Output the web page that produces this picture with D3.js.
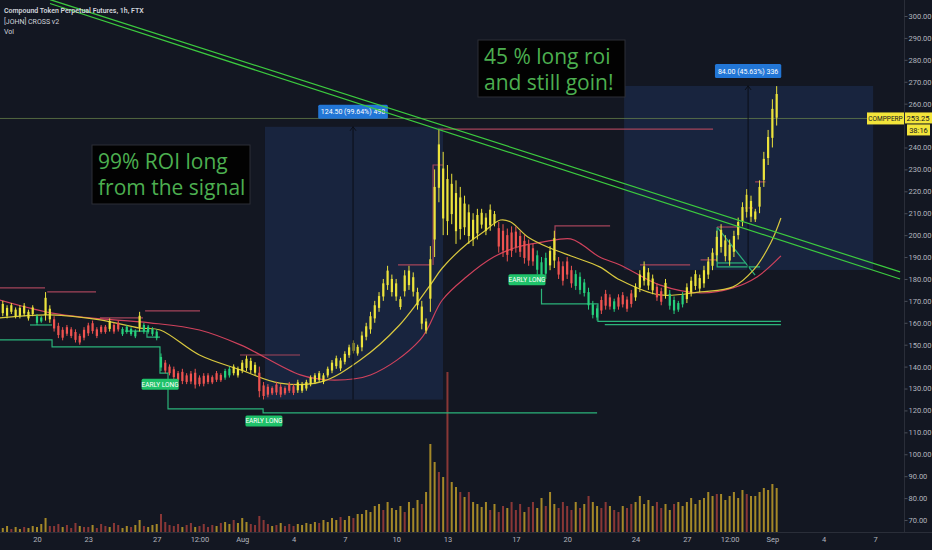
<!DOCTYPE html>
<html><head><meta charset="utf-8">
<script src="https://cdn.jsdelivr.net/npm/d3@7"></script>
<style>html,body{margin:0;padding:0;background:#131722;}svg{display:block}</style>
</head><body>
<svg id="c" width="932" height="550"></svg>
<script>
// ---------------- DATA ----------------
// 6-hourly candles (low/high) starting 2020-07-18 00:00
const candleStart = new Date(2020, 6, 18);
const candleStepHours = 6;
const highs = [
170,168,169,167, 168,169,166,168, 164,163,174,168, 163,160,158,159, 158,157,155,158,
160,161,158,159, 159,162,160,161, 158,159,158,157, 165,160,159,158, 157,146,143,141,
140,138,139,137, 138,139,136,137, 137,136,138,137, 139,140,141,140, 143,145,144,142,
140,133,132,131, 133,132,131,133, 132,134,133,134, 136,137,138,137, 140,143,145,144,
147,150,152,150, 156,160,165,170, 174,180,186,182, 180,172,184,186, 183,176,170,162,
195,230,248,238, 232,228,225,222, 218,214,210,212, 212,210,214,211, 206,205,203,204,
204,202,200,198, 196,193,190,192, 195,202,190,188, 190,186,184,183, 180,176,170,168,
172,175,173,171, 173,174,172,175, 178,184,188,185, 182,178,176,180, 175,172,170,174,
178,181,184,182, 186,190,194,202, 205,200,198,202, 208,215,221,218, 212,225,238,248,
262,268];
const lows = [
163,162,164,162, 162,163,161,163, 159,160,161,160, 156,153,152,154, 153,151,150,152,
154,155,153,155, 155,156,155,156, 154,155,154,153, 156,155,155,154, 152,138,137,136,
134,133,132,132, 132,130,131,131, 132,132,133,133, 134,135,136,135, 137,138,137,136,
126,125,126,127, 127,126,127,128, 127,128,128,129, 131,132,133,132, 135,137,139,138,
141,144,146,145, 147,152,155,160, 165,170,175,172, 170,166,172,175, 172,166,157,155,
165,190,215,200, 200,205,196,198, 200,196,195,198, 203,200,202,204, 192,190,188,190,
192,190,187,186, 186,182,178,180, 184,185,180,177, 180,176,175,173, 172,166,162,161,
164,166,166,165, 166,167,165,167, 170,174,177,175, 173,170,168,171, 166,164,165,167,
169,172,175,174, 176,180,184,188, 192,188,186,190, 198,204,208,206, 206,210,222,232,
240,250];
const stateCodes = ["YYYY","YYYY","GGYY","RRRR","RRRR","RRRR","RYRR","GGGG","YGGG","GGRR",
"RRRR","RRRR","RRRR","GGYY","YYYY","RRRR","RRRR","RYYY","YYYY","YYYY",
"YYYY","YYYY","YYYY","YYYY","YYYY","YYYY","YYYY","YYYY","YYYY","RRRR",
"RRRR","RGGG","YYRR","RRGG","GGGG","RRRG","RRRR","YYYY","YRRY","GGGG",
"YYYY","YYYY","YYYY","YYYY","YYYY","YY"];
const volumes = [
4,6,3,5, 3,5,4,6, 5,8,14,6, 6,8,5,7, 4,9,6,5, 5,7,4,8, 6,5,9,7, 4,6,5,7, 12,6,5,7, 8,18,10,7,
6,8,5,7, 9,5,6,8, 5,7,6,9, 10,8,12,9, 14,10,8,7, 16,12,8,6, 7,9,6,8, 6,8,7,9, 8,10,9,12, 10,14,12,15,
12,16,14,18, 18,22,20,26, 28,22,30,24, 22,26,20,30, 24,32,28,40, 88,70,60,55, 160,50,45,40, 35,40,30,28, 25,30,22,28, 20,26,24,30,
22,28,20,25, 30,24,34,26, 40,28,24,30, 26,22,30,24, 28,36,30,26, 24,30,26,22, 20,26,24,28, 30,36,28,32, 26,30,24,28, 22,28,30,26,
30,34,28,32, 34,40,36,38, 38,32,36,40, 34,42,38,36, 36,40,44,42, 48,44];
// volume bar direction (U = up/yellow, D = down/red) per day
const volDirCodes = ["UUDU","UDUU","UUUD","DDUD","DDUD","DUDD","DUDD","UUDU","UDUU","UDDD",
"DDUD","DUDD","DDUD","UUDU","UUDD","DDDU","DUDD","DUUU","UUDU","UUUD",
"UUDU","UUUU","UDUU","UUDU","UUDU","UUDU","DUUD","UDUU","UUDU","DDUD",
"DDUD","DUUD","UUDD","DDUD","UDUU","DDUD","DUDD","UUUU","UDDU","UDUU",
"UUUU","UUUD","UUUU","UUDU","UUUU","UU"];

// moving averages: [day offset from 2020-07-20, price]
const dayBase = new Date(2020, 6, 20);
const maFast = [[-2.2,162.2],[0.8,163.6],[3.7,161.3],[6.0,157.6],[7.2,156.7],[9.5,145.3],[11.9,138.5],[14.2,132.5],
[16.6,133.0],[18.9,143.0],[21.2,159.0],[23.0,177.3],[23.7,185.0],[25.2,196.4],[26.1,201.4],[27.1,206.9],[27.7,206.0],
[28.7,199.2],[30.0,194.1],[31.4,190.0],[32.9,185.5],[34.1,179.5],[36.4,172.7],[38.8,174.1],[40.7,176.4],[41.9,184.1],
[42.9,196.4],[43.5,207.8]];
const maSlow = [[-2.2,170.4],[0.8,164.5],[3.1,162.2],[6.6,160.0],[9.5,156.7],[11.9,149.9],[15.4,136.2],[17.1,133.9],
[19.5,136.2],[22.4,152.2],[23.7,170.4],[25.1,180.9],[26.7,190.0],[28.1,194.6],[29.6,196.9],[31.2,198.3],[31.9,195.5],
[32.9,190.0],[34.1,186.4],[36.4,177.3],[38.8,173.6],[40.7,175.9],[42.1,180.9],[43.5,190.5]];

// trend lines [day, price]
const trendLines = [
  [[0.76,307.5],[50.47,183.2]],
  [[0.76,305.7],[50.47,180.0]]
];
// support (teal) step lines
const supportLines = [
  [[-2.3,152.2],[0.88,152.2],[0.88,149.0],[7.19,149.0],[7.19,137.0],[7.66,137.0],[7.66,120.7],[13.22,120.7],[13.22,118.9],[32.75,118.9]],
  [[-0.41,159.0],[0.88,159.0]],
  [[5.15,156.2],[6.43,156.2],[6.43,153.5],[7.19,153.5]],
  [[29.5,175.5],[29.5,168.6],[32.8,168.6],[32.8,160.6],[43.5,160.6]],
  [[33.2,159.2],[43.5,159.2]],
  [[39.77,203.7],[39.77,185.5],[42.28,185.5]],
  [[39.77,187.3],[41.40,187.3]],
  [[39.77,203.7],[41.99,181.8]]
];
// resistance (red) step lines
const resistLines = [
  [[-2.3,175.9],[0.47,175.9]],
  [[0.6,174.1],[3.45,174.1]],
  [[3.68,162.2],[6.2,162.2]],
  [[6.32,165.4],[9.53,165.4]],
  [[11.87,145.3],[15.38,145.3]],
  [[21.11,186.4],[22.98,186.4]],
  [[23.16,186.4],[23.16,232.0],[23.74,232.0]],
  [[23.45,248.4],[39.53,248.4]],
  [[30.29,190.9],[30.29,204.2],[33.51,204.2]],
  [[35.26,186.4],[38.19,186.4]],
  [[38.8,188.7],[39.77,188.7]],
  [[39.77,203.7],[41.11,203.7]],
  [[41.4,212.4],[41.87,212.4]],
  [[41.99,224.3],[42.6,224.3]]
];
// long position tools
const positions = [
  {from:13.33, to:23.74, arrow:18.48, entry:124.95, target:249.45, label:"124.50 (99.64%) 498"},
  {from:34.33, to:48.89, arrow:41.58, entry:184.09, target:268.09, label:"84.00 (45.63%) 336"}
];
// signal labels [day, price]
const signals = [
  {day:7.2, price:131.9, text:"EARLY LONG"},
  {day:13.27, price:115.2, text:"EARLY LONG"},
  {day:28.65, price:179.6, text:"EARLY LONG"}
];
const lastPrice = 253.25;
const countdown = "38:16";
const symbol = "COMPPERP";
const legendLines = ["Compound Token Perpetual Futures, 1h, FTX","[JOHN] CROSS v2","Vol"];
const noteA = ["99% ROI long","from the signal"];
const noteB = ["45 % long roi","and still goin!"];
const yTickValues = d3.range(70, 301, 10);
const xTickDates = [new Date(2020,6,20),new Date(2020,6,23),new Date(2020,6,27),new Date(2020,6,29,12),
  new Date(2020,7,1),new Date(2020,7,4),new Date(2020,7,7),new Date(2020,7,10),new Date(2020,7,13),
  new Date(2020,7,17),new Date(2020,7,20),new Date(2020,7,24),new Date(2020,7,27),new Date(2020,7,29,12),
  new Date(2020,8,1),new Date(2020,8,4),new Date(2020,8,7)];
const xTickLabels = ["20","23","27","12:00","Aug","4","7","10","13","17","20","24","27","12:00","Sep","4","7"];

// ---------------- CHART ----------------
const W = 932, H = 550, plotR = 904, plotB = 532;
const BG = "#131722", TXT = "#b2b5be";
const colors = {Y:"#ece33c", R:"#ef5350", G:"#26d07c"};
const volColors = {U:"#c9a52a", D:"#a8403c"};
const fontAxis = "Roboto, 'Liberation Sans', sans-serif";

const svg = d3.select("#c");
svg.append("rect").attr("width", W).attr("height", H).attr("fill", BG);
svg.append("defs").append("clipPath").attr("id", "clip")
  .append("rect").attr("width", plotR).attr("height", plotB);

const x = d3.scaleTime().domain([new Date(2020,6,20), new Date(2020,8,7)]).range([37, 875]);
const y = d3.scaleLinear().domain([70, 300]).range([520, 16]);
const yv = d3.scaleLinear().domain([0, 200]).range([plotB, plotB - 200]);
const dayToDate = d => new Date(dayBase.getTime() + d * 864e5);
const px = d => x(dayToDate(d));
const line = d3.line().x(d => px(d[0])).y(d => y(d[1]));

const g = svg.append("g").attr("clip-path", "url(#clip)");
const states = stateCodes.join("");
const vdirs = volDirCodes.join("");
const candles = highs.map((h, i) => ({
  t: new Date(candleStart.getTime() + i * candleStepHours * 3600e3),
  h, l: lows[i], s: states[i], v: volumes[i], vd: vdirs[i]
}));

// position boxes
positions.forEach(p => {
  const x0 = px(p.from), x1 = px(p.to);
  g.append("rect").attr("x", x0).attr("y", y(p.target)).attr("width", x1 - x0)
    .attr("height", y(p.entry) - y(p.target)).attr("fill", "rgba(52,100,200,0.17)");
});

// volume
g.append("g").selectAll("rect").data(candles).join("rect")
  .attr("x", d => x(d.t) - 1).attr("width", 2)
  .attr("y", d => yv(d.v)).attr("height", d => yv(0) - yv(d.v))
  .attr("fill", d => volColors[d.vd]).attr("opacity", 0.8);

// last price line
g.append("line").attr("x1", 0).attr("x2", plotR).attr("y1", y(lastPrice)).attr("y2", y(lastPrice))
  .attr("stroke", "#6f8a4e").attr("stroke-width", 1).attr("opacity", 0.7);

// step lines
g.append("g").selectAll("path").data(supportLines).join("path")
  .attr("d", line).attr("fill", "none").attr("stroke", "#2bb37a").attr("stroke-width", 1.2);
g.append("g").selectAll("path").data(resistLines).join("path")
  .attr("d", line).attr("fill", "none").attr("stroke", "#a4445a").attr("stroke-width", 1.2);

// moving averages
const maLine = d3.line().curve(d3.curveCatmullRom).x(d => px(d[0])).y(d => y(d[1]));
g.append("path").attr("d", maLine(maSlow)).attr("fill", "none").attr("stroke", "#d0425c").attr("stroke-width", 1.2);
g.append("path").attr("d", maLine(maFast)).attr("fill", "none").attr("stroke", "#d9c83f").attr("stroke-width", 1.2);

// candles: wick + narrow body
const cg = g.append("g");
cg.selectAll("line").data(candles).join("line")
  .attr("x1", d => x(d.t)).attr("x2", d => x(d.t))
  .attr("y1", d => y(d.h)).attr("y2", d => y(d.l))
  .attr("stroke", d => colors[d.s]).attr("stroke-width", 1);
cg.selectAll("rect").data(candles).join("rect")
  .attr("x", d => x(d.t) - 1.1).attr("width", 2.2)
  .attr("y", d => y(d.h) + (y(d.l) - y(d.h)) * 0.2)
  .attr("height", d => Math.max(1, (y(d.l) - y(d.h)) * 0.6))
  .attr("fill", d => colors[d.s]);

// position arrows + labels
positions.forEach(p => {
  const ax = px(p.arrow);
  g.append("line").attr("x1", ax).attr("x2", ax).attr("y1", y(p.target)).attr("y2", y(p.entry))
    .attr("stroke", "#0b0e16").attr("stroke-width", 1);
  g.append("path").attr("d", `M${ax-3},${y(p.target)+4}L${ax},${y(p.target)}L${ax+3},${y(p.target)+4}`)
    .attr("fill", "none").attr("stroke", "#0b0e16");
  const tw = p.label.length * 3.35 + 6;
  g.append("rect").attr("x", ax - tw/2).attr("y", y(p.target) - 22).attr("width", tw).attr("height", 14)
    .attr("rx", 1.5).attr("fill", "#2276d6");
  g.append("text").attr("x", ax).attr("y", y(p.target) - 12.3).attr("text-anchor", "middle")
    .attr("fill", "#fff").attr("font-size", 7).attr("font-family", fontAxis).text(p.label);
});

// trend lines
g.append("g").selectAll("path").data(trendLines).join("path")
  .attr("d", line).attr("fill", "none").attr("stroke", "#3ccb3f").attr("stroke-width", 1.2);

// signal labels
signals.forEach(s => {
  const cx = px(s.day), cy = y(s.price);
  const tw = 37;
  g.append("rect").attr("x", cx - tw/2).attr("y", cy - 5.5).attr("width", tw).attr("height", 11)
    .attr("rx", 1.5).attr("fill", "#1fc26a");
  g.append("text").attr("x", cx).attr("y", cy + 2.5).attr("text-anchor", "middle")
    .attr("fill", "#fff").attr("font-size", 6.5).attr("font-family", fontAxis).text(s.text);
});

// note boxes
function note(x0, y0, w, h, lines) {
  svg.append("rect").attr("x", x0).attr("y", y0).attr("width", w).attr("height", h)
    .attr("fill", "#020202").attr("stroke", "#2d2f36").attr("stroke-width", 1);
  lines.forEach((t, i) => svg.append("text").attr("x", x0 + 6).attr("y", y0 + 24 + i * 26)
    .attr("fill", "#4caf50").attr("font-size", 21).attr("font-family", "'Open Sans', sans-serif").text(t));
}
note(92, 145, 158, 59, noteA);
note(478, 40, 147, 57, noteB);

// price axis
const ly = y(lastPrice);
svg.append("line").attr("x1", plotR + 0.5).attr("x2", plotR + 0.5).attr("y1", 0).attr("y2", plotB)
  .attr("stroke", "#2a2e39");
const yAxis = d3.axisRight(y).tickValues(yTickValues.filter(v => Math.abs(y(v) - ly) > 13 || y(v) < ly - 6))
  .tickSize(3).tickFormat(d3.format(".2f"));
const ya = svg.append("g").attr("transform", `translate(${plotR + 0.5},0)`).call(yAxis);
ya.select(".domain").remove();
ya.selectAll("line").attr("stroke", "#4a4e59");
ya.selectAll("text").attr("fill", TXT).attr("font-size", 7.5).attr("font-family", fontAxis).attr("x", 4);

// time axis
svg.append("line").attr("x1", 0).attr("x2", W).attr("y1", plotB + 0.5).attr("y2", plotB + 0.5).attr("stroke", "#2a2e39");
const xAxis = d3.axisBottom(x).tickValues(xTickDates).tickSize(0).tickPadding(5)
  .tickFormat((d, i) => xTickLabels[i]);
const xa = svg.append("g").attr("transform", `translate(0,${plotB})`).call(xAxis);
xa.select(".domain").remove();
xa.selectAll("text").attr("fill", TXT).attr("font-size", 7.5).attr("font-family", fontAxis);

// last price labels
svg.append("rect").attr("x", 867).attr("y", ly - 6).attr("width", 37).attr("height", 12).attr("fill", "#f3e53a");
svg.append("text").attr("x", 885.5).attr("y", ly + 2.5).attr("text-anchor", "middle").attr("fill", "#131722")
  .attr("font-size", 6.5).attr("font-family", fontAxis).text(symbol);
svg.append("rect").attr("x", plotR + 1).attr("y", ly - 6).attr("width", W - plotR - 1).attr("height", 11).attr("fill", "#f3e53a");
svg.append("text").attr("x", 918).attr("y", ly + 2.5).attr("text-anchor", "middle").attr("fill", "#131722")
  .attr("font-size", 7.5).attr("font-family", fontAxis).text(d3.format(".2f")(lastPrice));
svg.append("rect").attr("x", 907).attr("y", ly + 6).attr("width", 23).attr("height", 11).attr("fill", "#f3e53a");
svg.append("text").attr("x", 918.5).attr("y", ly + 14.5).attr("text-anchor", "middle").attr("fill", "#131722")
  .attr("font-size", 7.5).attr("font-family", fontAxis).text(countdown);

// legend
legendLines.forEach((t, i) => svg.append("text").attr("x", 4).attr("y", 13 + i * 10.5)
  .attr("fill", "#d1d4dc").attr("font-size", i === 0 ? 7 : 7).attr("font-weight", i === 0 ? 600 : 400)
  .attr("font-family", fontAxis).text(t));
</script>
</body></html>
